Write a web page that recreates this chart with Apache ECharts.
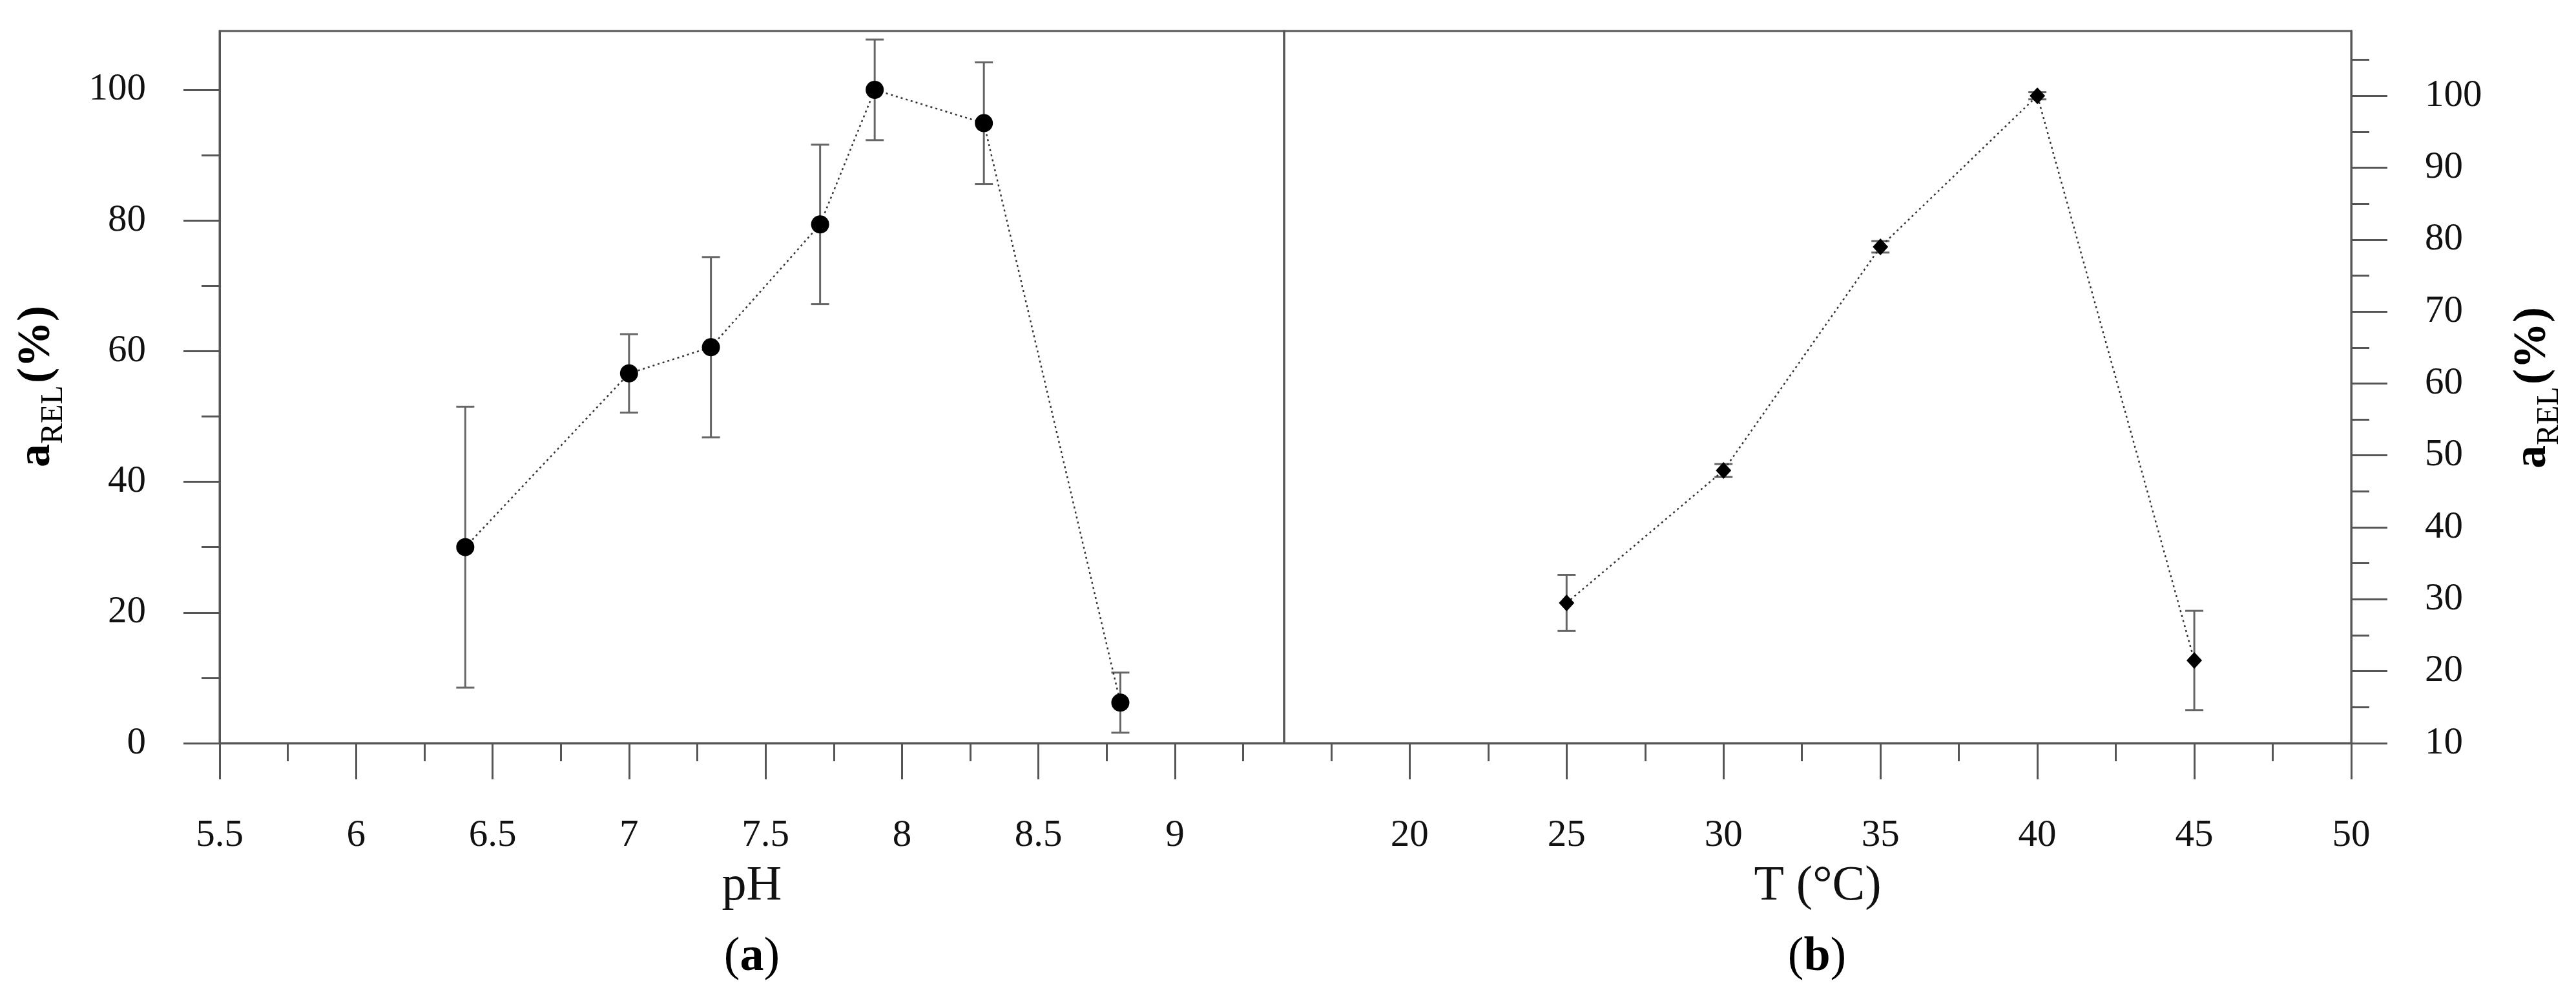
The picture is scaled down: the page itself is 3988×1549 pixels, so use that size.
<!DOCTYPE html>
<html>
<head>
<meta charset="utf-8">
<script src="https://cdn.jsdelivr.net/npm/echarts@6/dist/echarts.min.js"></script>
<style>
  html, body { margin: 0; padding: 0; background: #fff; }
  #chart { width: 3988px; height: 1549px; }
</style>
</head>
<body>
<div id="chart"></div>
<script>
// (a) activity vs pH
var phValues = [6.4, 7.0, 7.3, 7.7, 7.9, 8.3, 8.8];
var phActivity = [30.0, 56.6, 60.6, 79.4, 100.0, 94.9, 6.2];
var phError = [21.5, 6.0, 13.8, 12.2, 7.7, 9.3, 4.6];

// (b) activity vs temperature
var tempValues = [25, 30, 35, 40, 45];
var tempActivity = [29.5, 47.9, 79.0, 100.0, 21.5];
var tempError = [3.9, 0.9, 0.8, 0.5, 6.9];

// tick labels
var phTicks = [5.5, 6, 6.5, 7, 7.5, 8, 8.5, 9];
var phMinorTicks = [5.75, 6.25, 6.75, 7.25, 7.75, 8.25, 8.75, 9.25];
var tempTicks = [20, 25, 30, 35, 40, 45, 50];
var tempMinorTicks = [17.5, 22.5, 27.5, 32.5, 37.5, 42.5, 47.5];
var leftYTicks = [0, 20, 40, 60, 80, 100];
var leftYMinorTicks = [10, 30, 50, 70, 90];
var rightYTicks = [10, 20, 30, 40, 50, 60, 70, 80, 90, 100];
var rightYMinorTicks = [15, 25, 35, 45, 55, 65, 75, 85, 95, 105];

var FONT = '"Liberation Serif", "Times New Roman", serif';
var AXIS_COLOR = '#555';

function pairs(xs, ys) {
  var out = [];
  for (var i = 0; i < xs.length; i++) out.push([xs[i], ys[i]]);
  return out;
}
function errData(xs, ys, es) {
  var out = [];
  for (var i = 0; i < xs.length; i++) out.push([xs[i], ys[i] - es[i], ys[i] + es[i]]);
  return out;
}

// error bars, positioned through the axis scales
function renderErr(params, api) {
  var top = api.coord([api.value(0), api.value(2)]);
  var bot = api.coord([api.value(0), api.value(1)]);
  var half = 14;
  var st = { stroke: '#666', lineWidth: 3 };
  return {
    type: 'group',
    children: [
      { type: 'line', shape: { x1: top[0], y1: top[1], x2: bot[0], y2: bot[1] }, style: st },
      { type: 'line', shape: { x1: top[0] - half, y1: top[1], x2: top[0] + half, y2: top[1] }, style: st },
      { type: 'line', shape: { x1: bot[0] - half, y1: bot[1], x2: bot[0] + half, y2: bot[1] }, style: st }
    ]
  };
}

function majorX(grid, min, max, ticks, name) {
  return {
    type: 'value', gridIndex: grid, min: min, max: max, position: 'bottom',
    name: name, nameLocation: 'middle', nameGap: 184,
    nameTextStyle: { fontFamily: FONT, fontSize: 76, color: '#111' },
    axisLine: { show: true, onZero: false, lineStyle: { color: AXIS_COLOR, width: 3 } },
    axisTick: { show: true, inside: false, length: 56, customValues: ticks, lineStyle: { color: AXIS_COLOR, width: 3 } },
    axisLabel: { show: true, margin: 114, customValues: ticks, fontFamily: FONT, fontSize: 59, color: '#111' },
    splitLine: { show: false }
  };
}
function minorX(grid, min, max, ticks) {
  return {
    type: 'value', gridIndex: grid, min: min, max: max, position: 'bottom',
    axisLine: { show: false, onZero: false },
    axisTick: { show: true, length: 28, customValues: ticks, lineStyle: { color: AXIS_COLOR, width: 3 } },
    axisLabel: { show: false },
    splitLine: { show: false }
  };
}
function majorY(grid, min, max, ticks, pos) {
  return {
    type: 'value', gridIndex: grid, min: min, max: max, position: pos,
    axisLine: { show: true, onZero: false, lineStyle: { color: AXIS_COLOR, width: 3 } },
    axisTick: { show: true, length: 56, customValues: ticks, lineStyle: { color: AXIS_COLOR, width: 3 } },
    axisLabel: { show: true, margin: 114, customValues: ticks, fontFamily: FONT, fontSize: 59, color: '#111' },
    splitLine: { show: false }
  };
}
function minorY(grid, min, max, ticks, pos) {
  return {
    type: 'value', gridIndex: grid, min: min, max: max, position: pos,
    axisLine: { show: false, onZero: false },
    axisTick: { show: true, length: 28, customValues: ticks, lineStyle: { color: AXIS_COLOR, width: 3 } },
    axisLabel: { show: false },
    splitLine: { show: false }
  };
}

var nameRich = {
  a: { fontFamily: FONT, fontSize: 72, fontWeight: 'bold', color: '#111', padding: [0, 0, 14, 0], verticalAlign: 'bottom' },
  sub: { fontFamily: FONT, fontSize: 48, color: '#111', verticalAlign: 'bottom' },
  p: { fontFamily: FONT, fontSize: 72, fontWeight: 'bold', color: '#111', padding: [0, 0, 14, 0], verticalAlign: 'bottom' }
};
var letterRich = {
  n: { fontFamily: FONT, fontSize: 74, color: '#111' },
  b: { fontFamily: FONT, fontSize: 74, fontWeight: 'bold', color: '#111' }
};

var myChart = echarts.init(document.getElementById('chart'));
var option = {
  animation: false,
  backgroundColor: '#fff',
  grid: [
    { left: 340, top: 48, width: 1648, height: 1102, show: true, borderColor: AXIS_COLOR, borderWidth: 3, backgroundColor: 'transparent' },
    { left: 1988, top: 48, width: 1652, height: 1102, show: true, borderColor: AXIS_COLOR, borderWidth: 3, backgroundColor: 'transparent' }
  ],
  xAxis: [
    majorX(0, 5.5, 9.4, phTicks, 'pH'),
    minorX(0, 5.5, 9.4, phMinorTicks),
    majorX(1, 16, 50, tempTicks, 'T (°C)'),
    minorX(1, 16, 50, tempMinorTicks)
  ],
  yAxis: [
    majorY(0, 0, 109, leftYTicks, 'left'),
    minorY(0, 0, 109, leftYMinorTicks, 'left'),
    majorY(1, 10, 109, rightYTicks, 'right'),
    minorY(1, 10, 109, rightYMinorTicks, 'right')
  ],
  graphic: [
    { type: 'text', x: 64, y: 598, rotation: Math.PI / 2,
      style: { text: '{a|a}{sub|REL} {p|(%)}', rich: nameRich, align: 'center', verticalAlign: 'middle' } },
    { type: 'text', x: 3928, y: 600, rotation: Math.PI / 2,
      style: { text: '{a|a}{sub|REL} {p|(%)}', rich: nameRich, align: 'center', verticalAlign: 'middle' } },
    { type: 'text', x: 1164, y: 1482,
      style: { text: '{n|(}{b|a}{n|)}', rich: letterRich, align: 'center', verticalAlign: 'middle' } },
    { type: 'text', x: 2813, y: 1482,
      style: { text: '{n|(}{b|b}{n|)}', rich: letterRich, align: 'center', verticalAlign: 'middle' } }
  ],
  series: [
    {
      type: 'custom', xAxisIndex: 0, yAxisIndex: 0, z: 2,
      renderItem: renderErr, data: errData(phValues, phActivity, phError),
      encode: { x: 0, y: [1, 2] }
    },
    {
      type: 'line', xAxisIndex: 0, yAxisIndex: 0, z: 3,
      data: pairs(phValues, phActivity),
      symbol: 'circle', symbolSize: 28,
      itemStyle: { color: '#000' },
      lineStyle: { color: '#333', width: 2.5, type: [3, 5] }
    },
    {
      type: 'custom', xAxisIndex: 2, yAxisIndex: 2, z: 2,
      renderItem: renderErr, data: errData(tempValues, tempActivity, tempError),
      encode: { x: 0, y: [1, 2] }
    },
    {
      type: 'line', xAxisIndex: 2, yAxisIndex: 2, z: 3,
      data: pairs(tempValues, tempActivity),
      symbol: 'diamond', symbolSize: [24, 26],
      itemStyle: { color: '#000' },
      lineStyle: { color: '#333', width: 2.5, type: [3, 5] }
    }
  ]
};
myChart.setOption(option);
</script>
</body>
</html>
